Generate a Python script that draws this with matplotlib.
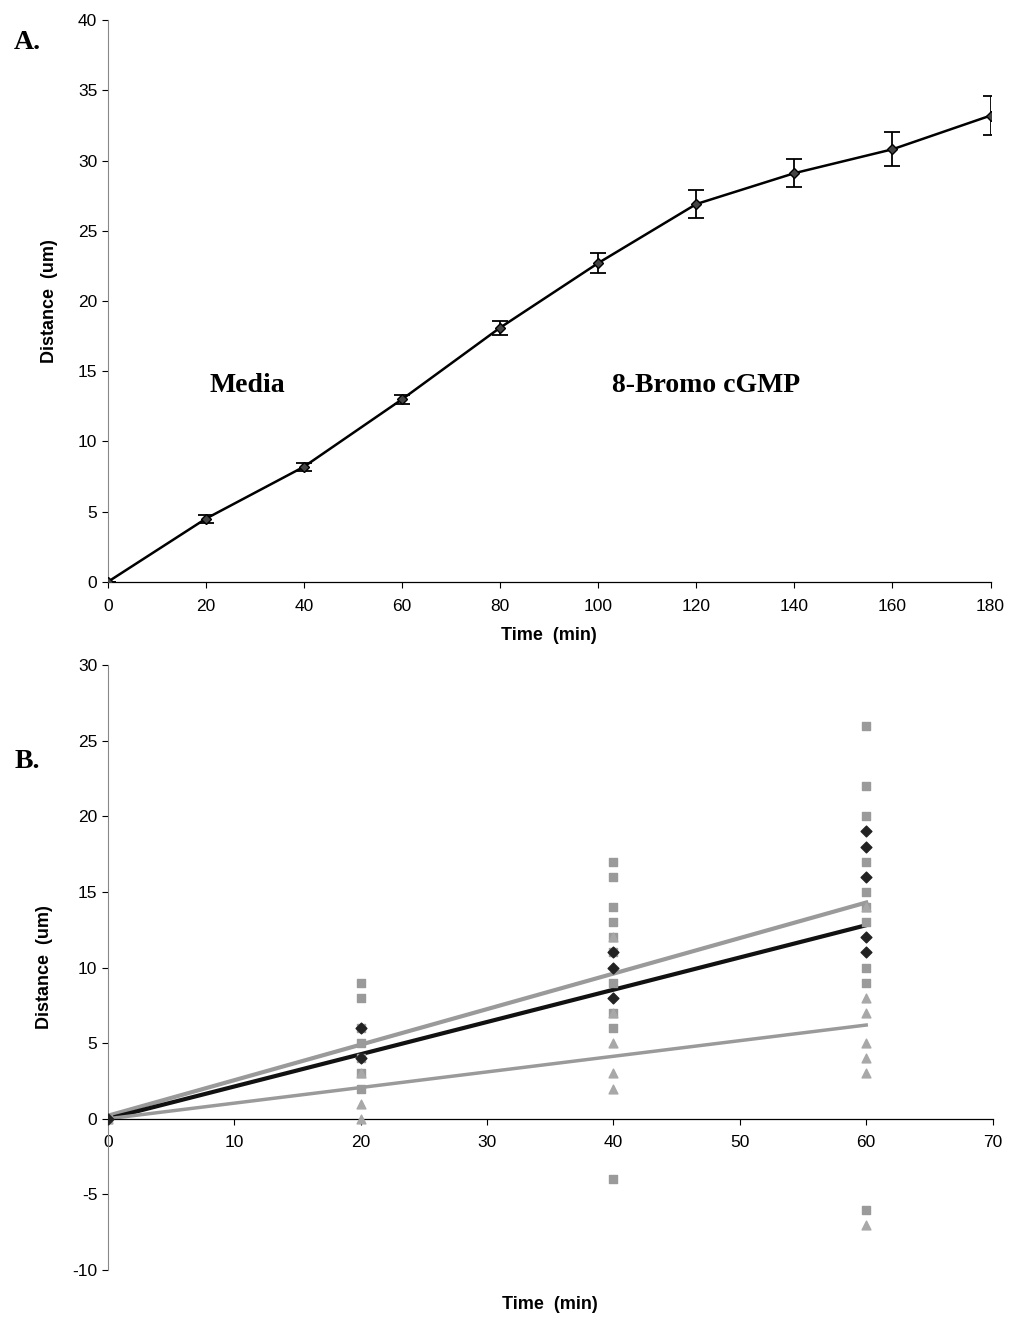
import numpy as np
import matplotlib
matplotlib.use("Agg")
import matplotlib.pyplot as plt

# panel A: mean distance over time
time_a = [0, 20, 40, 60, 80, 100, 120, 140, 160, 180]
dist_a = [0, 4.5, 8.2, 13.0, 18.1, 22.7, 26.9, 29.1, 30.8, 33.2]
err_a = [0, 0.3, 0.3, 0.3, 0.5, 0.7, 1.0, 1.0, 1.2, 1.4]

# panel B: individual cells (three series)
diam_x = [0, 20, 20, 40, 40, 40, 60, 60, 60, 60, 60]
diam_y = [0, 6, 4, 10, 8, 11, 19, 18, 16, 12, 11]
sq_x = [0] + [20] * 7 + [40] * 10 + [60] * 10
sq_y = [0, 9, 8, 6, 5, 4, 3, 2,
        17, 16, 14, 13, 12, 11, 9, 7, 6, -4,
        26, 22, 20, 17, 15, 14, 13, 10, 9, -6]
tri_x = [0] + [20] * 3 + [40] * 5 + [60] * 7
tri_y = [0, 3, 1, 0,
         12, 7, 5, 3, 2,
         14, 8, 7, 5, 4, 3, -7]

# trend lines (end points)
trend_x = [0, 60]
trend_sq = [0.2, 14.3]
trend_diam = [0, 12.8]
trend_tri = [0, 6.2]

plt.rcParams['font.family'] = ['Liberation Sans', 'DejaVu Sans']
plt.rcParams['axes.unicode_minus'] = False
fig = plt.figure(figsize=(10.16, 13.19), dpi=100)

# ---------------- A ----------------
ax1 = fig.add_axes([0.106, 0.5588, 0.869, 0.426])
ax1.errorbar(time_a, dist_a, yerr=err_a, color='black', lw=1.8,
             marker='D', markersize=5.5, markerfacecolor='#444444',
             markeredgecolor='black', ecolor='black', elinewidth=1.3,
             capsize=6, capthick=1.3, zorder=3)
ax1.set_xlim(0, 180)
ax1.set_ylim(0, 40)
ax1.set_xticks(range(0, 181, 20))
ax1.set_yticks(range(0, 41, 5))
ax1.spines['top'].set_visible(False)
ax1.spines['right'].set_visible(False)
ax1.spines['left'].set_color('#888888')
ax1.spines['left'].set_linewidth(0.8)
ax1.spines['bottom'].set_linewidth(0.9)
ax1.tick_params(labelsize=12.5, length=4, width=0.8)
ax1.tick_params(axis='x', pad=8)
ax1.set_xlabel('Time  (min)', fontsize=13, fontweight='bold', labelpad=10)
ax1.set_ylabel('Distance  (um)', fontsize=13, fontweight='bold', labelpad=14)
ax1.text(28.5, 13.95, 'Media', fontsize=20, fontweight='bold',
         family='Liberation Serif', ha='center', va='center')
ax1.text(122, 13.95, '8-Bromo cGMP', fontsize=20, fontweight='bold',
         family='Liberation Serif', ha='center', va='center')
fig.text(0.014, 0.968, 'A.', fontsize=20, fontweight='bold',
         family='Liberation Serif', ha='left', va='center')

# ---------------- B ----------------
ax2 = fig.add_axes([0.106, 0.0371, 0.871, 0.4587])
ax2.plot(trend_x, trend_sq, color='#9a9a9a', lw=3, zorder=2)
ax2.plot(trend_x, trend_diam, color='#111111', lw=3, zorder=2)
ax2.plot(trend_x, trend_tri, color='#9a9a9a', lw=2.5, zorder=2)
ax2.scatter(sq_x, sq_y, marker='s', s=34, color='#9a9a9a', zorder=3)
ax2.scatter(tri_x, tri_y, marker='^', s=40, color='#a8a8a8', zorder=3)
ax2.scatter(diam_x, diam_y, marker='D', s=30, color='#222222', zorder=4)
ax2.set_xlim(0, 70)
ax2.set_ylim(-10, 30)
ax2.set_xticks(range(0, 71, 10))
ax2.set_yticks(range(-10, 31, 5))
ax2.spines['top'].set_visible(False)
ax2.spines['right'].set_visible(False)
ax2.spines['bottom'].set_position(('data', 0))
ax2.spines['bottom'].set_linewidth(0.9)
ax2.spines['left'].set_color('#888888')
ax2.spines['left'].set_linewidth(0.8)
ax2.tick_params(labelsize=12.5, length=4, width=0.8)
ax2.tick_params(axis='x', pad=8)
ax2.set_xlabel('Time  (min)', fontsize=13, fontweight='bold')
ax2.xaxis.set_label_coords(0.5, -0.043)
ax2.set_ylabel('Distance  (um)', fontsize=13, fontweight='bold', labelpad=14)
fig.text(0.014, 0.423, 'B.', fontsize=20, fontweight='bold',
         family='Liberation Serif', ha='left', va='center')

fig.savefig('out.png', dpi=100)
